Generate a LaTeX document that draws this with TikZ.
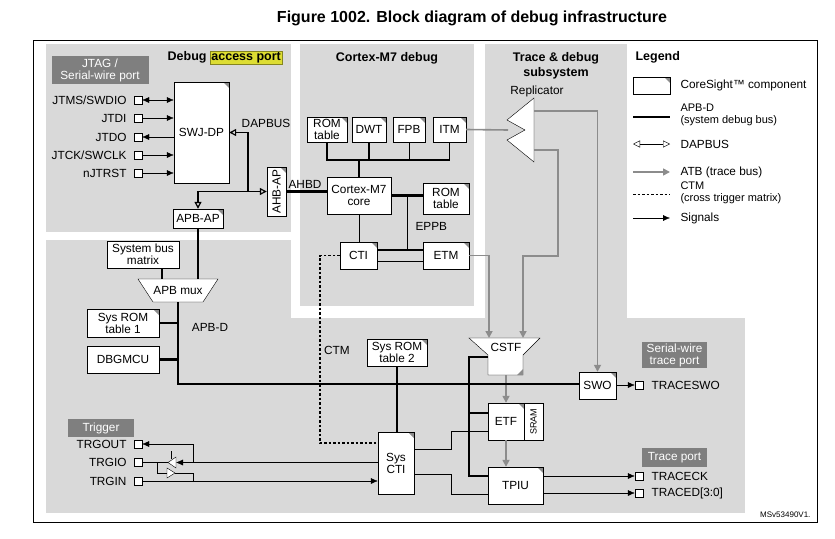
\documentclass[tikz,border=0pt]{standalone}
\usepackage{fontspec}
\setmainfont{Liberation Sans}
\usepackage{xcolor}
\usetikzlibrary{arrows.meta, positioning, calc}
\definecolor{dbgray}{HTML}{D9D9D9}
\definecolor{dblabel}{HTML}{7F7F7F}
\definecolor{dbatb}{HTML}{8C8C8C}
\definecolor{dbhl}{HTML}{DDDD33}

\begin{document}
\begin{tikzpicture}[
  x=1pt, y=-1pt,
  font=\fontsize{11.8}{12}\selectfont,
  box/.style={
    rectangle,
    draw,
    fill=white,
    inner sep=1pt,
    align=center
  },
  cs/.style={
    box,
    path picture={\fill[dbatb] (path picture bounding box.north east) -- ++(-6pt,0) -- ++(6pt,-6pt) -- cycle;}
  },
  pin/.style={draw, fill=white, minimum size=8pt, inner sep=0pt},
  tag/.style={fill=dblabel, text=white, inner sep=1pt, align=center},
  ttl/.style={font=\fontsize{12.5}{14.5}\selectfont\bfseries, align=center},
  bus/.style={line width=2.2pt},
  sig/.style={-{Latex[length=7pt,width=6pt]}},
  atb/.style={dbatb, line width=1.6pt},
  atba/.style={atb, -{Triangle[length=7pt,width=7pt]}},
  dap/.style={line width=1.2pt},
  ctm/.style={line width=1.3pt, dash pattern=on 2.5pt off 2pt}
]
  \useasboundingbox (0,0) rectangle (835,538);

  % regions
  \fill[dbgray] (46,44) rectangle (291,232);
  \fill[dbgray] (300,44) rectangle (474,306);
  \fill[dbgray] (485,44) rectangle (627,318);
  \fill[dbgray] (46,240) rectangle (291,318);
  \fill[dbgray] (46,318) rectangle (745,513);
  \draw[line width=0.8pt] (33,40) rectangle (817,522);

  % titles
  \node[font=\fontsize{16}{18}\selectfont\bfseries] (title) at (472,18) {Figure 1002. Block diagram of debug infrastructure};
  \node[ttl] (dapttl) at (225,58) {Debug \setlength\fboxsep{1pt}\fcolorbox{dbhl!60!black}{dbhl}{access port}};
  \node[ttl] (cmttl) at (387,58) {Cortex-M7 debug};
  \node[ttl] (trttl) at (556,66) {Trace \& debug\\subsystem};
  \node[ttl, anchor=west] (lgttl) at (632,57) {Legend};
  \node[font=\fontsize{8}{9}\selectfont, anchor=east] (ref) at (814,515) {MSv53490V1.};

  % JTAG / SW port
  \node[tag, minimum width=97pt, minimum height=28pt] (jtag) at (100,70) {JTAG /\\Serial-wire port};
  \node[cs, minimum width=55pt, minimum height=101pt] (swj) at (201.5,132.5) {SWJ-DP};
  \node[pin] (p1) at (138,100) {};
  \node[pin] (p2) at (138,118) {};
  \node[pin] (p3) at (138,137) {};
  \node[pin] (p4) at (138,155) {};
  \node[pin] (p5) at (138,173) {};
  \node[anchor=east] at (130,100) {JTMS/SWDIO};
  \node[anchor=east] at (130,118) {JTDI};
  \node[anchor=east] at (130,137) {JTDO};
  \node[anchor=east] at (130,155) {JTCK/SWCLK};
  \node[anchor=east] at (130,173) {nJTRST};
  \draw[{Latex[length=7pt,width=6pt]}-{Latex[length=7pt,width=6pt]}] (p1.east) -- (p1.east -| swj.west);
  \draw[sig] (p2.east) -- (p2.east -| swj.west);
  \draw[sig] (p3.east -| swj.west) -- (p3.east);
  \draw[sig] (p4.east) -- (p4.east -| swj.west);
  \draw[sig] (p5.east) -- (p5.east -| swj.west);

  % access ports
  \node[cs, minimum width=50pt, minimum height=19pt] (apbap) at (198,218.5) {APB-AP};
  \node[cs, minimum width=19pt, minimum height=49pt] (ahbap) at (276.5,191.5) {\rotatebox{90}{AHB-AP}};
  \coordinate (dj) at (248,191.5);
  \draw[dap, -{Triangle[open,length=7pt,width=7pt]}] (dj) |- (swj.east);
  \draw[dap, -{Triangle[open,length=7pt,width=7pt]}] (dj) -- (ahbap.west);
  \draw[dap, -{Triangle[open,length=7pt,width=7pt]}] (dj) -| (apbap.north);
  \node (dapbus) at (266,123) {DAPBUS};

  % Cortex-M7 debug
  \node[cs, minimum width=40pt, minimum height=25pt] (rom) at (327,129.5) {ROM\\table};
  \node[cs, minimum width=34pt, minimum height=25pt] (dwt) at (369,129.5) {DWT};
  \node[cs, minimum width=32pt, minimum height=25pt] (fpb) at (409,129.5) {FPB};
  \node[cs, minimum width=33pt, minimum height=25pt] (itm) at (449.5,129.5) {ITM};
  \node[box, minimum width=64pt, minimum height=37pt] (core) at (359,195.5) {Cortex-M7\\core};
  \node[cs, minimum width=46pt, minimum height=31pt] (romb) at (446,198.5) {ROM\\table};
  \node[cs, minimum width=37pt, minimum height=27pt] (cti) at (358.5,255.5) {CTI};
  \node[cs, minimum width=46pt, minimum height=27pt] (etm) at (446,255.5) {ETM};
  \coordinate (cb) at (359,160);
  \draw[bus] (rom.south) -- (rom.south |- cb) -- (itm.south |- cb);
  \draw[bus] (dwt.south) -- (dwt.south |- cb);
  \draw (fpb.south) -- (fpb.south |- cb);
  \draw (itm.south) -- (itm.south |- cb);
  \draw[bus] (cb) -- (core.north);
  \draw[bus] (ahbap.east) -- (ahbap.east -| core.west);
  \node (ahbd) at (305,184) {AHBD};
  \draw[bus] (core.east) -- (core.east -| romb.west);
  \coordinate (ep1) at (407,196);
  \coordinate (ep2) at (407,250);
  \coordinate (ep3) at (407,261);
  \draw (ep1) -- (ep2);
  \node[anchor=west] (eppb) at (412,226) {EPPB};
  \draw[bus] (ep2 -| cti.east) -- (ep2 -| etm.west);
  \draw (ep3 -| cti.east) -- (ep3 -| etm.west);
  \draw (core.south) -- (core.south |- cti.north);

  % replicator
  \draw[fill=white] (534,98) -- (507,120) -- (525,130) -- (507,140) -- (534,162) -- cycle;
  \node (repl) at (537,91) {Replicator};
  \coordinate (rin) at (508,130);
  \coordinate (ro1) at (534,111);
  \coordinate (ro2) at (534,150);
  \draw[atb] (itm.east) -- (rin);

  % CSTF
  \draw[fill=white] (469,338) -- (540,338) -- (523,355) -- (523,375) -- (488,375) -- (488,355) -- cycle;
  \fill[dbatb] (523,375) -- (517,375) -- (523,369) -- cycle;
  \node (cstf) at (506,347) {CSTF};
  \coordinate (ct1) at (489,338);
  \coordinate (ct2) at (523,338);
  \coordinate (cstfb) at (506,375);
  \coordinate (cstfl) at (488,357);

  % trace sink
  \node[cs, minimum width=37pt, minimum height=27pt] (swo) at (597.5,385.5) {SWO};
  \node[cs, minimum width=36pt, minimum height=37pt] (etf) at (506,421.5) {ETF};
  \node[box, minimum width=19pt, minimum height=37pt] (sram) at (533.5,421.5) {\rotatebox{90}{\fontsize{9}{10}\selectfont SRAM}};
  \node[cs, minimum width=55pt, minimum height=37pt] (tpiu) at (515.5,485.5) {TPIU};
  \draw[atba] (ro1) -| (swo.north);
  \draw[atba] (ro2) -- (558,150) -- (558,256) -- (ct2 |- 0,256) -- (ct2);
  \draw[atba] (etm.east) -- (ct1 |- etm.east) -- (ct1);
  \draw[atba] (cstfb) -- (etf.north);
  \draw[atba] (etf.south) -- (etf.south |- tpiu.north);
  \coordinate (tb1) at (469,357);
  \coordinate (tb2) at (469,413);
  \coordinate (tb3) at (469,476);
  \draw[bus] (cstfl) -- (tb1) -- (tb3) -- (tb3 -| tpiu.west);
  \draw[bus] (tb2) -- (tb2 -| etf.west);

  % output ports
  \node[tag, minimum width=65pt, minimum height=26pt] (swtp) at (674.5,355) {Serial-wire\\trace port};
  \node[tag, minimum width=65pt, minimum height=19pt] (tp) at (674.5,457.5) {Trace port};
  \node[pin] (psw) at (639,385) {};
  \node[pin] (pck) at (639,476) {};
  \node[pin] (pcd) at (639,493) {};
  \node[anchor=west] at (648,385) {TRACESWO};
  \node[anchor=west] at (648,476) {TRACECK};
  \node[anchor=west] at (648,493) {TRACED[3:0]};
  \draw[sig] (swo.east |- psw) -- (psw.west);
  \draw[sig] (tpiu.east |- pck) -- (pck.west);
  \draw[sig] (tpiu.east |- pcd) -- (pcd.west);

  % system APB-D
  \node[box, minimum width=72pt, minimum height=27pt] (sbm) at (143,254.5) {System bus\\matrix};
  \draw[fill=white] (138,279) -- (218,279) -- (203,302) -- (153,302) -- cycle;
  \node (mux) at (178,290) {APB mux};
  \coordinate (mt1) at (162,279);
  \coordinate (mt2) at (198,279);
  \coordinate (mb) at (178,302);
  \coordinate (bj) at (178,384);
  \draw[bus] (mt1 |- sbm.south) -- (mt1);
  \draw[bus] (apbap.south) -- (mt2);
  \node[cs, minimum width=72pt, minimum height=28pt] (rom1) at (123,323) {Sys ROM\\table 1};
  \node[box, minimum width=72pt, minimum height=27pt] (dbg) at (123,359.5) {DBGMCU};
  \draw[bus] (mb) -- (bj) -- (bj -| swo.west);
  \draw[bus] (rom1.east) -- (rom1.east -| mb);
  \draw[bus] (dbg.east) -- (dbg.east -| mb);
  \node (apbd) at (210,327) {APB-D};

  % system CTI
  \node[cs, minimum width=60pt, minimum height=27pt] (rom2) at (397,352.5) {Sys ROM\\table 2};
  \node[cs, minimum width=36pt, minimum height=62pt] (scti) at (396,463) {Sys\\CTI};
  \draw[bus] (rom2.south) -- (rom2.south |- scti.north);
  \coordinate (s1a) at (451,449);
  \coordinate (s1b) at (451,431);
  \coordinate (s2a) at (451,474);
  \coordinate (s2b) at (451,494);
  \draw (s1a -| scti.east) -- (s1a) -- (s1b) -- (s1b -| etf.west);
  \draw (s2a -| scti.east) -- (s2a) -- (s2b) -- (s2b -| tpiu.west);
  \coordinate (m1) at (320,255.5);
  \coordinate (m2) at (320,443);
  \draw[ctm] (cti.west) -- (m1) -- (m2) -- (m2 -| scti.west);
  \node (ctmlbl) at (337,350) {CTM};

  % trigger
  \node[tag, minimum width=66pt, minimum height=18pt] (trig) at (101,428) {Trigger};
  \node[pin] (pto) at (138,444) {};
  \node[pin] (ptio) at (138,462.5) {};
  \node[pin] (ptin) at (138,481) {};
  \node[anchor=east] at (130,444) {TRGOUT};
  \node[anchor=east] at (130,462.5) {TRGIO};
  \node[anchor=east] at (130,481) {TRGIN};
  \coordinate (t1) at (193,444);
  \coordinate (t2) at (193,462.5);
  \draw[sig] (t1) -- (pto.east);
  \draw (t1) -- (t2);
  \draw[sig] (scti.west |- t2) -- (176,462.5);
  \draw (ptio.east) -- (168,462.5);
  \draw[fill=white] (176,457) -- (176,468) -- (168,462.5) -- cycle;
  \draw (171,451) -- (171,459);
  \draw (157,462.5) -- (157,473) -- (167,473);
  \draw[fill=white] (167,468) -- (167,478) -- (175,473) -- cycle;
  \draw (175,473) -- (193,473) -- (193,481);
  \draw[sig] (ptin.east) -- (scti.west |- ptin);

  % legend
  \node[cs, minimum width=37pt, minimum height=17pt] (lg1) at (651.5,85.5) {};
  \node[anchor=west] at (677,85) {CoreSight™ component};
  \draw[bus] (633,117) -- (670,117);
  \node[anchor=west, align=left, font=\fontsize{11}{11.5}\selectfont] at (677,115) {APB-D\\(system debug bus)};
  \draw[{Triangle[open,length=7pt,width=7pt]}-{Triangle[open,length=7pt,width=7pt]}] (633,144) -- (670,144);
  \node[anchor=west] at (677,144) {DAPBUS};
  \draw[atba] (633,172) -- (670,172);
  \node[anchor=west] at (677,172) {ATB (trace bus)};
  \draw[ctm, line width=1pt] (633,194) -- (670,194);
  \node[anchor=west, align=left, font=\fontsize{11}{11.5}\selectfont] at (677,193) {CTM\\(cross trigger matrix)};
  \draw[sig] (633,218) -- (670,218);
  \node[anchor=west] at (677,218) {Signals};
\end{tikzpicture}
\end{document}
